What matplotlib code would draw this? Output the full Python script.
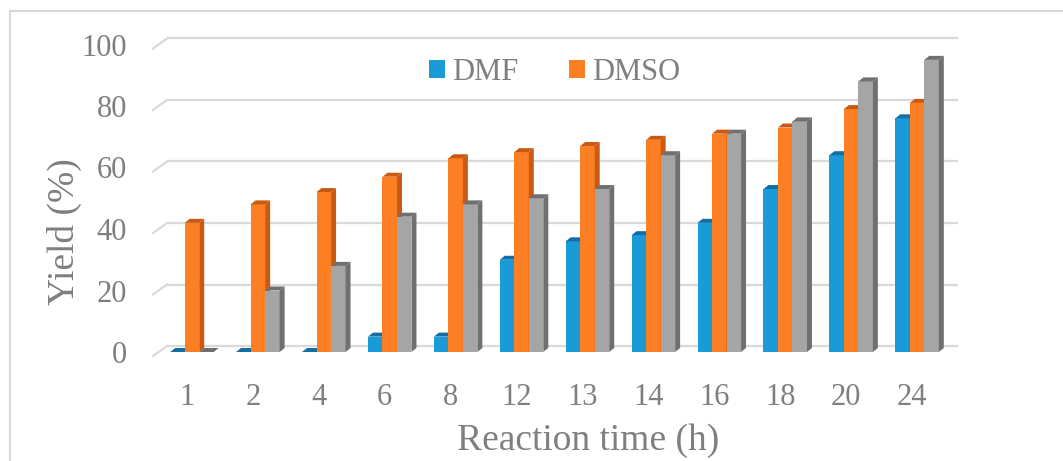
import numpy as np
import matplotlib
matplotlib.use('Agg')
import matplotlib.pyplot as plt
from matplotlib.patches import Polygon
from matplotlib.lines import Line2D
from matplotlib.transforms import Affine2D, IdentityTransform

# yield (%) vs reaction time
hours = ['1', '2', '4', '6', '8', '12', '13', '14', '16', '18', '20', '24']
dmf = [0, 0, 0, 5, 5, 30, 36, 38, 42, 53, 64, 76]
dmso = [42, 48, 52, 57, 63, 65, 67, 69, 71, 73, 79, 81]
third = [0, 20, 28, 44, 48, 50, 53, 64, 71, 75, 88, 95]

W, H, DPI = 1063, 461, 100
TXT = '#7f7f7f'
GRID = '#d9d9d9'
plt.rcParams['font.family'] = ['Liberation Serif', 'DejaVu Serif']

fig = plt.figure(figsize=(W / DPI, H / DPI), dpi=DPI)
ax = fig.add_axes([159 / W, 109 / H, 791 / W, 307.5 / H])
ax.set_xlim(-0.5, 11.5)
ax.set_ylim(0, 100)
ax.set_autoscale_on(False)
for s in ax.spines.values():
    s.set_visible(False)
ax.patch.set_visible(False)

# fake 3d: pixel offsets for the bar depth, back wall and front edge
DX, DY = 5, 4
BACK = (8, 6)
FRONT = (-6, -4)


def shifted(dx, dy):
    return ax.transData + Affine2D().translate(dx, dy)


yt = np.arange(0, 101, 20)
ax.hlines(yt, -0.5, 11.5, color=GRID, lw=1.6, transform=shifted(*BACK),
          clip_on=False, zorder=0)
for v in yt:
    px, py = ax.transData.transform((-0.5, v))
    ax.add_line(Line2D([px + FRONT[0], px + BACK[0]], [py + FRONT[1], py + BACK[1]],
                       color=GRID, lw=1.6, transform=IdentityTransform(),
                       clip_on=False, zorder=0))

x = np.arange(len(hours))
w = 0.22
series = [
    ('DMF', dmf, -w, '#1a9bd7', '#136fa3'),
    ('DMSO', dmso, 0, '#fd7f23', '#c85a13'),
    (None, third, w, '#a5a5a5', '#707070'),
]
handles = []
for z, (name, vals, off, face, dark) in enumerate(series):
    bars = ax.bar(x + off, vals, w, color=face, zorder=3 + z, clip_on=False)
    if name:
        handles.append((bars, name))
    for r in bars:
        x0, x1 = r.get_x(), r.get_x() + r.get_width()
        (a0, b0), (a1, b1) = ax.transData.transform([(x0, 0), (x1, r.get_height())])
        side = [(a1, b0), (a1 + DX, b0 + DY), (a1 + DX, b1 + DY), (a1, b1)]
        top = [(a0, b1), (a0 + DX, b1 + DY), (a1 + DX, b1 + DY), (a1, b1)]
        for pts in (side, top):
            ax.add_patch(Polygon(pts, closed=True, facecolor=dark, edgecolor='none',
                                 transform=IdentityTransform(), clip_on=False,
                                 zorder=3 + z))

ax.set_xticks(x - 0.076, hours)
ax.set_yticks(yt)
ax.tick_params(length=0, labelsize=22, labelcolor=TXT)
ax.tick_params(axis='x', pad=22)
ax.tick_params(axis='y', pad=23)

fig.legend([h[0] for h in handles], [h[1] for h in handles], loc='center',
           bbox_to_anchor=(554.5 / W, 1 - 72 / H), ncol=2, frameon=False,
           fontsize=22, handlelength=0.52, handleheight=0.52, handletextpad=0.23,
           columnspacing=1.67, borderpad=0, labelcolor=TXT)

fig.text(588 / W, 1 - 441 / H, 'Reaction time (h)', ha='center', va='center',
         fontsize=27, color=TXT)
fig.text(64.5 / W, 1 - 232 / H, 'Yield (%)', rotation=90, ha='center', va='center',
         fontsize=27, color=TXT)

# chart area border, cut off on the right and bottom
fig.add_artist(Line2D([10 / W, 1], [1 - 11 / H, 1 - 11 / H], color=GRID, lw=1.5,
                      transform=fig.transFigure))
fig.add_artist(Line2D([10 / W, 10 / W], [0, 1 - 11 / H], color=GRID, lw=1.5,
                      transform=fig.transFigure))

fig.savefig('out.png', dpi=DPI, facecolor='white')
